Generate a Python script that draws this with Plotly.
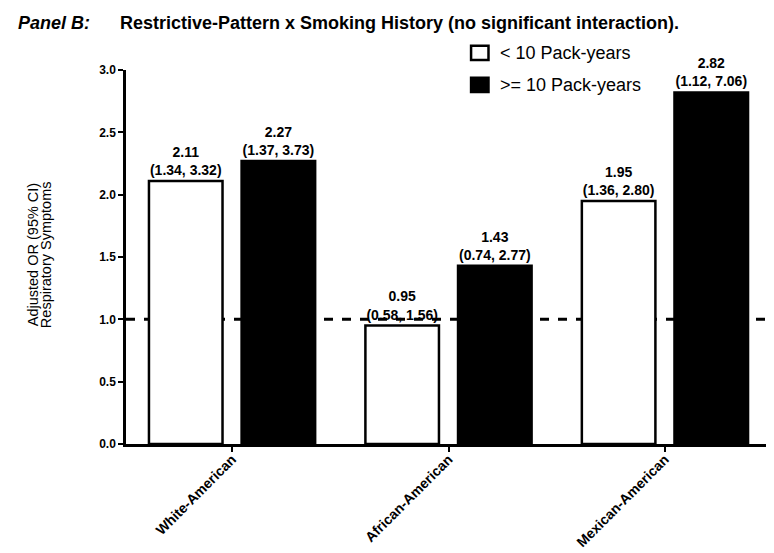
import plotly.graph_objects as go

categories = ["White-American", "African-American", "Mexican-American"]
low_or = [2.11, 0.95, 1.95]
low_ci = ["(1.34, 3.32)", "(0.58, 1.56)", "(1.36, 2.80)"]
high_or = [2.27, 1.43, 2.82]
high_ci = ["(1.37, 3.73)", "(0.74, 2.77)", "(1.12, 7.06)"]
series_names = ["< 10 Pack-years", ">= 10 Pack-years"]
series_fill = ["white", "black"]
y_ticks = [0.0, 0.5, 1.0, 1.5, 2.0, 2.5, 3.0]
ref_line = 1.0

FONT = "Arial, Liberation Sans, Helvetica, sans-serif"

def labels(vals, cis):
    return [f"<b>{v:.2f}<br>{c}</b>" for v, c in zip(vals, cis)]

fig = go.Figure()
for name, fill, vals, cis in [(series_names[0], series_fill[0], low_or, low_ci),
                              (series_names[1], series_fill[1], high_or, high_ci)]:
    fig.add_trace(go.Bar(
        x=categories, y=vals, name=name,
        marker=dict(color=fill, line=dict(color="black", width=2.5)),
        text=labels(vals, cis), textposition="outside",
        textfont=dict(family=FONT, size=14, color="black"),
        cliponaxis=False, showlegend=False,
    ))

fig.add_shape(type="line", xref="paper", x0=0, x1=1, yref="y", y0=ref_line, y1=ref_line,
              line=dict(color="black", width=3, dash="dash"), layer="below")

# custom legend (box + label), placed in paper coords
leg_y = [1.046, 0.960]
for i, name in enumerate(series_names):
    fig.add_shape(type="rect", xref="paper", yref="paper",
                  x0=0.535, x1=0.562, y0=leg_y[i] - 0.019, y1=leg_y[i] + 0.019,
                  fillcolor=series_fill[i], line=dict(color="black", width=2.5))
    fig.add_annotation(text=name, xref="paper", yref="paper", x=0.576, y=leg_y[i],
                       xanchor="left", yanchor="middle", showarrow=False,
                       font=dict(family=FONT, size=18, color="black"))

fig.add_annotation(text="<b><i>Panel B:</i></b>", xref="paper", yref="paper",
                   x=-0.170, y=1.126, xanchor="left", yanchor="middle", showarrow=False,
                   font=dict(family=FONT, size=18, color="black"))
fig.add_annotation(text="<b>Restrictive-Pattern x Smoking History (no significant interaction).</b>",
                   xref="paper", yref="paper",
                   x=-0.013, y=1.126, xanchor="left", yanchor="middle", showarrow=False,
                   font=dict(family=FONT, size=18, color="black"))

# y axis title (two lines)
fig.add_annotation(text="Adjusted OR (95% CI)", xref="paper", yref="paper",
                   x=-0.144, y=0.505, xanchor="center", yanchor="middle", textangle=-90,
                   showarrow=False, font=dict(family=FONT, size=14.5, color="black"))
fig.add_annotation(text="Respiratory Symptoms", xref="paper", yref="paper",
                   x=-0.124, y=0.505, xanchor="center", yanchor="middle", textangle=-90,
                   showarrow=False, font=dict(family=FONT, size=14.5, color="black"))

fig.update_layout(
    width=774, height=553,
    margin=dict(l=118, r=11, t=62, b=117, autoexpand=False),
    paper_bgcolor="white", plot_bgcolor="white",
    barmode="group", bargap=0.144, bargroupgap=0.206,
    font=dict(family=FONT, color="black"),
    showlegend=False,
    xaxis=dict(range=[-0.49, 2.49], showline=True, linecolor="black", linewidth=2.5,
               ticks="outside", ticklen=5, tickwidth=2, tickcolor="black",
               tickangle=-45, ticklabelstandoff=-6,
               tickfont=dict(family=FONT, size=14, color="black", weight="bold"),
               showgrid=False, zeroline=False, automargin=False),
    yaxis=dict(range=[0, 3.0], tickvals=y_ticks, ticktext=[f"{t:.1f}" for t in y_ticks],
               showline=True, linecolor="black", linewidth=2.5,
               ticks="outside", ticklen=5, tickwidth=2, tickcolor="black",
               tickfont=dict(family=FONT, size=12, color="black", weight="bold"),
               showgrid=False, zeroline=False, automargin=False),
)

fig.write_html("out.html")
